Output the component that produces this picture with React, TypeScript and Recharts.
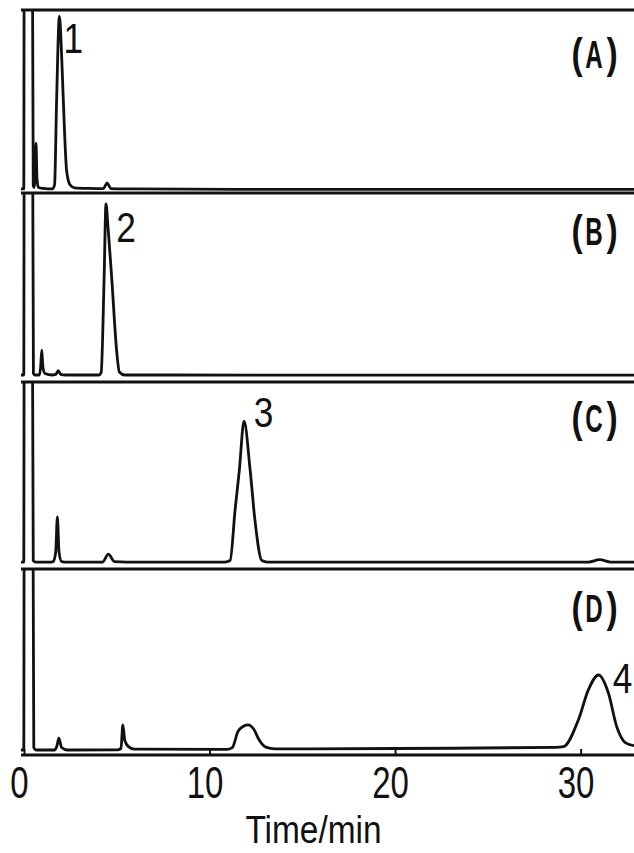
import React from 'react';
import { LineChart, Line, XAxis, YAxis, ReferenceLine, ReferenceDot } from 'recharts';

// retention time (min) and detector response (% of panel height)
const timeA = [-0.19, -0.04, -0.02, 0.43, 0.47, 0.52, 0.57, 0.62, 0.67, 0.75, 1.0, 1.5, 1.62, 1.73, 1.88, 2.0, 2.09, 2.27, 2.45, 2.7, 3.5, 4.25, 4.45, 4.65, 6, 15, 25, 32.85];
const signalA = [2.2, 2.2, 115, 115, 4, 3, 8, 27.3, 8, 3, 2.5, 2.2, 4.5, 51, 96.7, 75, 51, 12, 4.5, 2.8, 2.5, 2.4, 5.5, 2.4, 2.2, 2.0, 2.0, 2.0];

const timeB = [-0.19, -0.04, -0.02, 0.44, 0.48, 0.55, 0.8, 0.87, 0.93, 0.99, 1.1, 1.5, 1.68, 1.82, 1.95, 2.2, 4.0, 4.13, 4.29, 4.39, 4.5, 4.7, 4.97, 5.11, 5.4, 8, 20, 32.85];
const signalB = [3.7, 3.7, 115, 115, 4.5, 3.7, 3.7, 8, 16.9, 8, 4.5, 3.7, 4, 6, 4, 3.7, 3.7, 5, 55, 94.2, 82, 55, 16, 5.3, 3.7, 3.7, 3.6, 3.6];

const timeC = [-0.19, -0.04, -0.02, 0.43, 0.47, 0.6, 1.45, 1.55, 1.68, 1.77, 1.86, 2.0, 2.3, 4.2, 4.52, 4.85, 5.5, 10.8, 11.08, 11.35, 11.58, 11.83, 12.16, 12.42, 12.79, 13.1, 20, 30.4, 31.0, 31.6, 32.85];
const signalC = [3.7, 3.7, 115, 115, 4.5, 3.7, 3.7, 4, 9, 27.8, 9, 4, 3.7, 3.7, 8, 3.9, 3.7, 3.7, 4.5, 31.7, 53, 79, 53, 26, 4.5, 3.7, 3.7, 3.7, 5, 3.7, 3.7];

const timeD = [-0.19, -0.04, -0.02, 0.46, 0.5, 0.6, 1.6, 1.75, 1.85, 2.0, 2.3, 5.0, 5.2, 5.3, 5.4, 5.6, 5.9, 10.9, 11.2, 11.5, 11.8, 12.05, 12.35, 12.65, 13.0, 13.5, 20, 28.6, 29.05, 29.85, 30.39, 30.94, 31.47, 31.92, 32.4, 32.85];
const signalD = [2.7, 2.7, 115, 115, 4, 2.7, 2.7, 5, 9, 4, 2.7, 2.8, 3.5, 16.2, 8, 4.5, 3.2, 3, 4, 12.6, 15.5, 16.2, 14, 8, 4.2, 3.3, 3.5, 4.1, 4.5, 18.8, 35, 43, 33.3, 15.2, 6.5, 5];

const panelLetters = ['A', 'B', 'C', 'D'];
const peakNames = ['1', '2', '3', '4'];
const peakTimes = [1.88, 4.39, 11.83, 30.94];
const peakHeights = [96.7, 94.2, 79, 43];
const timeTicks = [0, 10, 20, 30];
const axisTitle = 'Time/min';

const toRows = (times: number[], values: number[]) => times.map((t, i) => ({ t, v: values[i] }));
const traces = [toRows(timeA, signalA), toRows(timeB, signalB), toRows(timeC, signalC), toRows(timeD, signalD)];

// layout (page pixels)
const W = 634;
const H = 853;
const X_DOMAIN: [number, number] = [-0.19, 32.85];
const PANEL_TOPS = [10, 193, 382, 569];
const PANEL_HEIGHTS = [183, 189, 187, 186];
const AXIS_H = 98;
const TAG_BASELINES = [68, 245, 432, 622];
const PEAK_LABEL_OFFSETS = [[14, 37], [20, 38], [19.5, 6], [24, 18]];
const INK = '#111';
const FONT = "'Liberation Sans', Arial, sans-serif";

const AXIS_Y = 2 + PANEL_HEIGHTS[3];

const TimeTick = (props: any) => {
  const { x, payload } = props;
  return (
    <g>
      <line x1={x} x2={x} y1={AXIS_Y} y2={AXIS_Y - 6} stroke={INK} strokeWidth={2} />
      <text
        transform={`translate(${x - 5},${AXIS_Y + 43}) scale(0.75,1)`}
        textAnchor="middle"
        fontSize={44}
        fontFamily={FONT}
        fill={INK}
      >
        {payload.value}
      </text>
    </g>
  );
};

const TimeTitle = (props: any) => {
  const vb = props.viewBox || { x: 21, width: 613 };
  const cx = vb.x + vb.width / 2 - 14;
  return (
    <text
      transform={`translate(${cx},${AXIS_Y + 88}) scale(0.88,1)`}
      textAnchor="middle"
      fontSize={38}
      fontFamily={FONT}
      fill={INK}
    >
      {axisTitle}
    </text>
  );
};

const peakLabel = (i: number) => (props: any) => {
  const vb = props.viewBox || { x: 0, y: 0, width: 0, height: 0 };
  const cx = vb.x + (vb.width || 0) / 2 + PEAK_LABEL_OFFSETS[i][0];
  const cy = vb.y + (vb.height || 0) / 2 + PEAK_LABEL_OFFSETS[i][1];
  return (
    <text
      transform={`translate(${cx},${cy}) scale(0.82,1)`}
      textAnchor="middle"
      fontSize={43}
      fontFamily={FONT}
      fill={INK}
    >
      {peakNames[i]}
    </text>
  );
};

const Panel = ({ i }: { i: number }) => {
  const isLast = i === 3;
  const h = PANEL_HEIGHTS[i] + 2 + (isLast ? AXIS_H : 0);
  return (
    <div style={{ position: 'absolute', left: 0, top: PANEL_TOPS[i] - 2 }}>
      <LineChart width={W} height={h} data={traces[i]} margin={{ top: 2, right: 0, bottom: 0, left: 21 }}>
        <XAxis
          type="number"
          dataKey="t"
          domain={X_DOMAIN}
          allowDataOverflow
          ticks={timeTicks}
          hide={!isLast}
          height={isLast ? AXIS_H : 0}
          axisLine={{ stroke: INK, strokeWidth: 3 }}
          tickLine={false}
          tick={(p: any) => <TimeTick {...p} />}
          label={{ content: (p: any) => <TimeTitle {...p} /> }}
        />
        <YAxis
          type="number"
          domain={[0, 100]}
          allowDataOverflow
          width={0}
          tick={false}
          tickLine={false}
          axisLine={{ stroke: INK, strokeWidth: 3 }}
        />
        <ReferenceLine y={100} stroke={INK} strokeWidth={3} />
        <Line
          type="monotone"
          dataKey="v"
          stroke={INK}
          strokeWidth={2.8}
          strokeLinejoin="round"
          dot={false}
          activeDot={false}
          isAnimationActive={false}
        />
        <ReferenceDot
          x={peakTimes[i]}
          y={peakHeights[i]}
          r={0}
          fill="none"
          stroke="none"
          label={{ content: peakLabel(i) }}
        />
      </LineChart>
    </div>
  );
};

export default function App() {
  return (
    <div style={{ position: 'absolute', left: 0, top: 0, width: W, height: H, background: '#fff' }}>
      {[0, 1, 2, 3].map((i) => (
        <Panel key={i} i={i} />
      ))}
      {/* panel tags (A)..(D) */}
      <svg width={W} height={H} style={{ position: 'absolute', left: 0, top: 0, pointerEvents: 'none' }}>
        {panelLetters.map((letter, i) => (
          <g key={letter} fontFamily={FONT} fontWeight="bold" fill={INK}>
            <text transform={`translate(577,${TAG_BASELINES[i]}) scale(0.8,1)`} textAnchor="middle" fontSize={42}>(</text>
            <text transform={`translate(594,${TAG_BASELINES[i]}) scale(0.62,1)`} textAnchor="middle" fontSize={39}>{letter}</text>
            <text transform={`translate(612,${TAG_BASELINES[i]}) scale(0.8,1)`} textAnchor="middle" fontSize={42}>)</text>
          </g>
        ))}
      </svg>
    </div>
  );
}
